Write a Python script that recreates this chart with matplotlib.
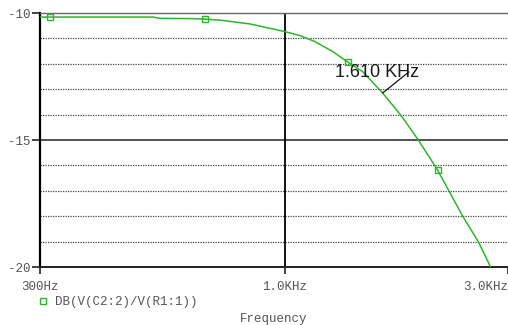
import matplotlib

matplotlib.use("Agg")
import matplotlib.pyplot as plt
from matplotlib.lines import Line2D

# DB(V(C2:2)/V(R1:1)) sweep, read back from the probe window
freq_hz = [300, 523, 541, 627, 675, 727, 802, 842, 1000, 1077, 1159, 1267,
           1363, 1468, 1619, 1734, 1788, 1923, 2121, 2399, 2595, 2753]
gain_db = [-10.16, -10.16, -10.21, -10.22, -10.24, -10.28, -10.38, -10.43,
           -10.73, -10.89, -11.12, -11.52, -11.93, -12.31, -13.15, -13.82,
           -14.13, -14.96, -16.18, -17.99, -19.02, -20.0]

marker_hz = [315, 675, 1363, 2121]
marker_db = [-10.16, -10.24, -11.93, -16.18]

cursor_hz = 1619
cursor_db = -13.15
cursor_label = "1.610 KHz"

x_ticks = [300, 1000, 3000]
x_labels = ["300Hz", "1.0KHz", "3.0KHz"]
y_ticks = [-10, -15, -20]
y_labels = ["-10", "-15", "-20"]
minor_db = [-11, -12, -13, -14, -16, -17, -18, -19]

trace_name = "DB(V(C2:2)/V(R1:1))"
GREEN = "#2db52d"
MONO = "Liberation Mono"
TXT = "#555555"
FS = 9

fig = plt.figure(figsize=(5.08, 3.25), dpi=100)
W, H = 508, 325
ax = fig.add_axes([40 / W, (H - 267) / H, 468 / W, 254 / H])

ax.set_xscale("log")
ax.set_xlim(300, 3000)
ax.set_ylim(-20, -10)

# grid: dotted for the in-between dB levels, solid through -15 and 1 kHz
for d in minor_db:
    ax.axhline(d, color="#444444", lw=0.9, ls=(0, (1, 1)), zorder=1)
ax.axhline(-15, color="#333333", lw=1.2, zorder=1)
ax.axvline(1000, color="black", lw=1.3, zorder=1)

ax.plot(freq_hz, gain_db, color=GREEN, lw=1.1, zorder=3, clip_on=True)
ax.plot(marker_hz, marker_db, ls="none", marker="s", ms=5, mfc="none",
        mec=GREEN, mew=1.0, zorder=4)

# cursor readout
ax.text(1280, -12.36, cursor_label, fontsize=13, family="Liberation Sans",
        color="#1a1a1a", va="center", ha="left", zorder=5)
ax.annotate("", xy=(cursor_hz, cursor_db), xytext=(1842, -12.32),
            arrowprops=dict(arrowstyle="-", color="#111111", lw=0.9,
                            shrinkA=0, shrinkB=0), zorder=5)

ax.spines["right"].set_visible(False)
ax.spines["top"].set_color("#666666")
ax.spines["top"].set_linewidth(1.0)
ax.spines["bottom"].set_color("#222222")
ax.spines["bottom"].set_linewidth(1.4)
ax.spines["left"].set_color("black")
ax.spines["left"].set_linewidth(1.6)

ax.set_xticks(x_ticks, x_labels)
ax.xaxis.set_minor_locator(matplotlib.ticker.NullLocator())
ax.set_yticks(y_ticks, y_labels)
ax.tick_params(axis="x", direction="out", length=5, width=1.2, color="#222222",
               pad=5, labelsize=FS, labelcolor=TXT)
ax.tick_params(axis="y", direction="out", length=6, width=1.2, color="#222222",
               pad=1, labelsize=FS, labelcolor=TXT)
for lbl in ax.get_xticklabels() + ax.get_yticklabels():
    lbl.set_family(MONO)
ax.get_xticklabels()[-1].set_horizontalalignment("right")

ax.set_xlabel("Frequency", family=MONO, fontsize=FS, color=TXT)
ax.xaxis.set_label_coords(0.5, -0.205)
ax.xaxis.label.set_va("center")

handle = Line2D([], [], ls="none", marker="s", ms=5, mfc="none", mec=GREEN, mew=1.0)
ax.legend([handle], [trace_name], loc="center left", frameon=False,
          bbox_to_anchor=(38 / W, (H - 302) / H), bbox_transform=fig.transFigure,
          handlelength=0.8, handletextpad=0.6, borderpad=0, borderaxespad=0,
          prop={"family": MONO, "size": FS}, labelcolor=TXT)

fig.savefig("out.png", dpi=100)
